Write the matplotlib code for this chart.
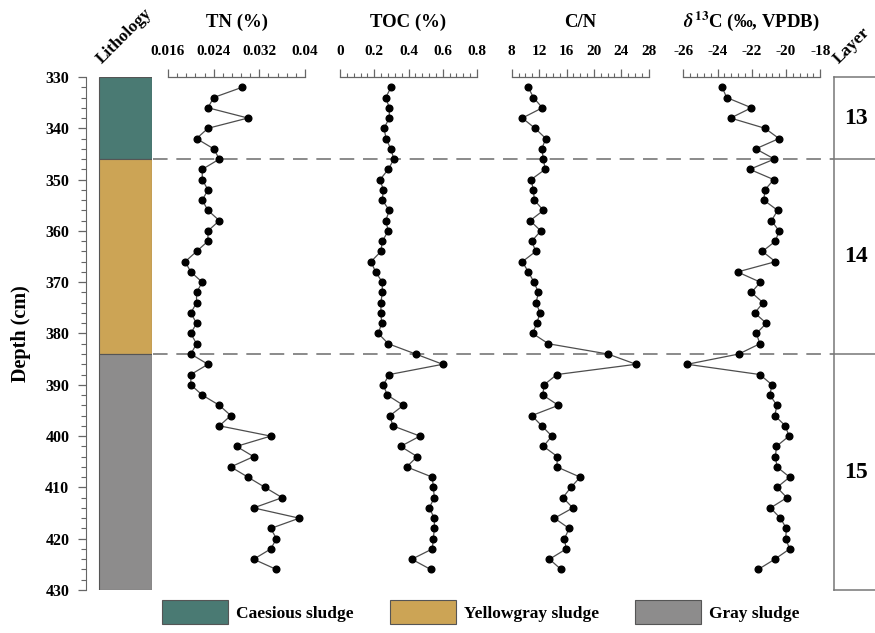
import numpy as np
import matplotlib
matplotlib.use("Agg")
import matplotlib.pyplot as plt
from matplotlib.patches import Patch, Rectangle
from matplotlib.ticker import MultipleLocator

plt.rcParams["font.family"] = ["Liberation Serif", "DejaVu Serif"]
plt.rcParams["font.weight"] = "bold"
plt.rcParams["mathtext.fontset"] = "stix"

# ---- sample depths (cm) ----
depth = [332, 334, 336, 338, 340, 342, 344, 346, 348, 350, 352, 354, 356, 358, 360, 362,
         364, 366, 368, 370, 372, 374, 376, 378, 380, 382, 384, 386, 388, 390, 392, 394,
         396, 398, 400, 402, 404, 406, 408, 410, 412, 414, 416, 418, 420, 422, 424, 426]

tn = [0.029, 0.024, 0.023, 0.030, 0.023, 0.021, 0.024, 0.025, 0.022, 0.022,
      0.023, 0.022, 0.023, 0.025, 0.023, 0.023, 0.021, 0.019, 0.020, 0.022,
      0.021, 0.021, 0.020, 0.021, 0.020, 0.021, 0.020, 0.023, 0.020, 0.020,
      0.022, 0.025, 0.027, 0.025, 0.034, 0.028, 0.031, 0.027, 0.030, 0.033,
      0.036, 0.031, 0.039, 0.034, 0.035, 0.034, 0.031, 0.035]

toc = [0.298, 0.267, 0.288, 0.288, 0.257, 0.269, 0.296, 0.315, 0.282, 0.234,
       0.253, 0.247, 0.288, 0.267, 0.282, 0.247, 0.239, 0.181, 0.208, 0.247,
       0.247, 0.239, 0.239, 0.243, 0.224, 0.282, 0.442, 0.600, 0.288, 0.253,
       0.276, 0.370, 0.292, 0.308, 0.467, 0.354, 0.451, 0.389, 0.539, 0.545,
       0.551, 0.521, 0.551, 0.551, 0.545, 0.539, 0.419, 0.530]

cn = [10.43, 11.16, 12.48, 9.55, 11.41, 12.98, 12.39, 12.63, 12.88, 10.83,
      11.16, 11.31, 12.63, 10.68, 12.25, 10.93, 11.51, 9.55, 10.43, 11.26,
      11.90, 11.56, 12.14, 11.66, 11.07, 13.36, 22.05, 26.15, 14.59, 12.73,
      12.54, 14.82, 10.93, 12.39, 13.86, 12.63, 14.68, 14.59, 18.00, 16.64,
      15.47, 16.93, 14.24, 16.39, 15.70, 15.95, 13.51, 15.22]

d13c = [-23.73, -23.47, -22.02, -23.24, -21.23, -20.41, -21.77, -20.68, -22.12, -20.72,
        -21.23, -21.30, -20.49, -20.85, -20.41, -20.62, -21.38, -20.62, -22.83, -21.50,
        -22.02, -21.34, -21.83, -21.15, -21.73, -21.53, -22.76, -25.77, -21.53, -20.82,
        -20.95, -20.53, -20.66, -20.04, -19.83, -20.56, -20.62, -20.53, -19.79, -20.53,
        -19.95, -20.91, -20.33, -19.98, -20.02, -19.79, -20.66, -21.63]

# ---- lithology and layers ----
litho_names = ["Caesious sludge", "Yellowgray sludge", "Gray sludge"]
litho_top = [330, 346, 384]
litho_bottom = [346, 384, 430]
litho_colors = ["#4a7a73", "#cca455", "#8d8c8c"]

layer_names = ["13", "14", "15"]
layer_top = [330, 346, 384]
layer_bottom = [346, 384, 430]

boundaries = [346, 384]

panel_titles = ["TN (%)", "TOC (%)", "C/N",
                r"$\mathit{\delta}^{\mathbf{13}}$C (‰, VPDB)"]
panel_data = [tn, toc, cn, d13c]
panel_lims = [(0.016, 0.04), (0, 0.8), (8, 28), (-26, -18)]
panel_minor = [0.0016, 0.04, 1, 0.4]
panel_ticklabels = [["0.016", "0.024", "0.032", "0.04"],
                    ["0", "0.2", "0.4", "0.6", "0.8"],
                    ["8", "12", "16", "20", "24", "28"],
                    ["-26", "-24", "-22", "-20", "-18"]]
panel_x = [168, 340, 511.7, 683.3]
panel_w = 137

W, H = 875, 633
fig = plt.figure(figsize=(W / 100, H / 100), dpi=100)

Y0, Y1 = 77, 590  # pixel rows of 330 cm and 430 cm
DMIN, DMAX = 330, 430


def px_axes(x0, x1, y0=Y0, y1=Y1, **kw):
    return fig.add_axes([x0 / W, 1 - y1 / H, (x1 - x0) / W, (y1 - y0) / H], **kw)


def fig_text(x, y, s, **kw):
    return fig.text(x / W, 1 - y / H, s, **kw)


axis_gray = "#666666"

# ---- depth axis + lithology column ----
ax_l = px_axes(86, 152.5)
ax_l.set_xlim(0, 1)
ax_l.set_ylim(DMAX, DMIN)
for s in ["top", "right", "bottom"]:
    ax_l.spines[s].set_visible(False)
ax_l.spines["left"].set_color(axis_gray)
ax_l.set_xticks([])
ax_l.yaxis.set_major_locator(MultipleLocator(10))
ax_l.yaxis.set_minor_locator(MultipleLocator(2))
ax_l.tick_params(axis="y", which="major", length=6, width=0.9, color=axis_gray,
                 labelsize=11.5, pad=6)
ax_l.tick_params(axis="y", which="minor", length=3.5, width=0.8, color=axis_gray)
for lab in ax_l.get_yticklabels():
    lab.set_fontweight("bold")
ax_l.set_ylabel("Depth (cm)", fontsize=14.5, fontweight="bold", labelpad=10)
litho_x0 = (99 - 86) / (152.5 - 86)
for top, bot, col in zip(litho_top, litho_bottom, litho_colors):
    ax_l.add_patch(Rectangle((litho_x0, top), 1 - litho_x0 - 0.005, bot - top,
                             facecolor=col, edgecolor="#555555", linewidth=0.8))
fig_text(124, 36, "Lithology", rotation=45, ha="center", va="center",
         fontsize=12.5, fontweight="bold", rotation_mode="anchor")

# ---- dashed boundary lines across the panels ----
ax_d = px_axes(152.5, 834)
ax_d.set_xlim(0, 1)
ax_d.set_ylim(DMAX, DMIN)
ax_d.axis("off")
for b in boundaries:
    ax_d.axhline(b, color="#8a8a8a", lw=1.4, dashes=(7.5, 4.5))

# ---- geochemistry panels ----
for x0, data, lims, mnr, labels, title in zip(panel_x, panel_data, panel_lims,
                                              panel_minor, panel_ticklabels, panel_titles):
    ax = px_axes(x0, x0 + panel_w)
    ax.patch.set_alpha(0)
    ax.plot(data, depth, color="#4d4d4d", lw=0.9, marker="o", ms=4.8,
            mfc="black", mec="black", clip_on=False)
    ax.set_xlim(*lims)
    ax.set_ylim(DMAX, DMIN)
    for s in ["left", "right", "bottom"]:
        ax.spines[s].set_visible(False)
    ax.spines["top"].set_color(axis_gray)
    ax.spines["top"].set_linewidth(0.9)
    ax.set_yticks([])
    ax.xaxis.tick_top()
    ax.set_xticks(np.linspace(lims[0], lims[1], len(labels)))
    ax.set_xticklabels(labels, fontweight="bold")
    ax.xaxis.set_minor_locator(MultipleLocator(mnr))
    ax.tick_params(axis="x", which="major", direction="out", length=6, width=0.9,
                   color=axis_gray, labelsize=11, pad=8)
    ax.tick_params(axis="x", which="minor", direction="out", length=3.2, width=0.8,
                   color=axis_gray)
    ax.set_title(title, fontsize=13.5, fontweight="bold", pad=36)

# ---- layer column ----
ax_r = px_axes(834, 900)
ax_r.set_xlim(0, 1)
ax_r.set_ylim(DMAX, DMIN)
ax_r.set_xticks([])
ax_r.set_yticks([])
ax_r.spines["right"].set_visible(False)
for s in ["left", "top", "bottom"]:
    ax_r.spines[s].set_color("#777777")
    ax_r.spines[s].set_linewidth(1.1)
for b in boundaries:
    ax_r.axhline(b, color="#777777", lw=1.1)
x_lab = (856 - 834) / (900 - 834)
for name, top, bot in zip(layer_names, layer_top, layer_bottom):
    ax_r.text(x_lab, (top + bot) / 2, name, ha="center", va="center",
              fontsize=17, fontweight="bold")
fig_text(852, 46, "Layer", rotation=45, ha="center", va="center",
         fontsize=12.5, fontweight="bold", rotation_mode="anchor")

# ---- legend ----
handles = [Patch(facecolor=c, edgecolor="#555555", linewidth=0.8) for c in litho_colors]
leg = fig.legend(handles, litho_names, loc="center", ncol=3,
                 bbox_to_anchor=(481 / W, 1 - 612 / H), frameon=False,
                 prop={"family": "Liberation Serif", "weight": "bold", "size": 12.5},
                 handlelength=3.8, handleheight=1.7, handletextpad=0.45,
                 columnspacing=2.1)

fig.savefig("out.png", dpi=100)
